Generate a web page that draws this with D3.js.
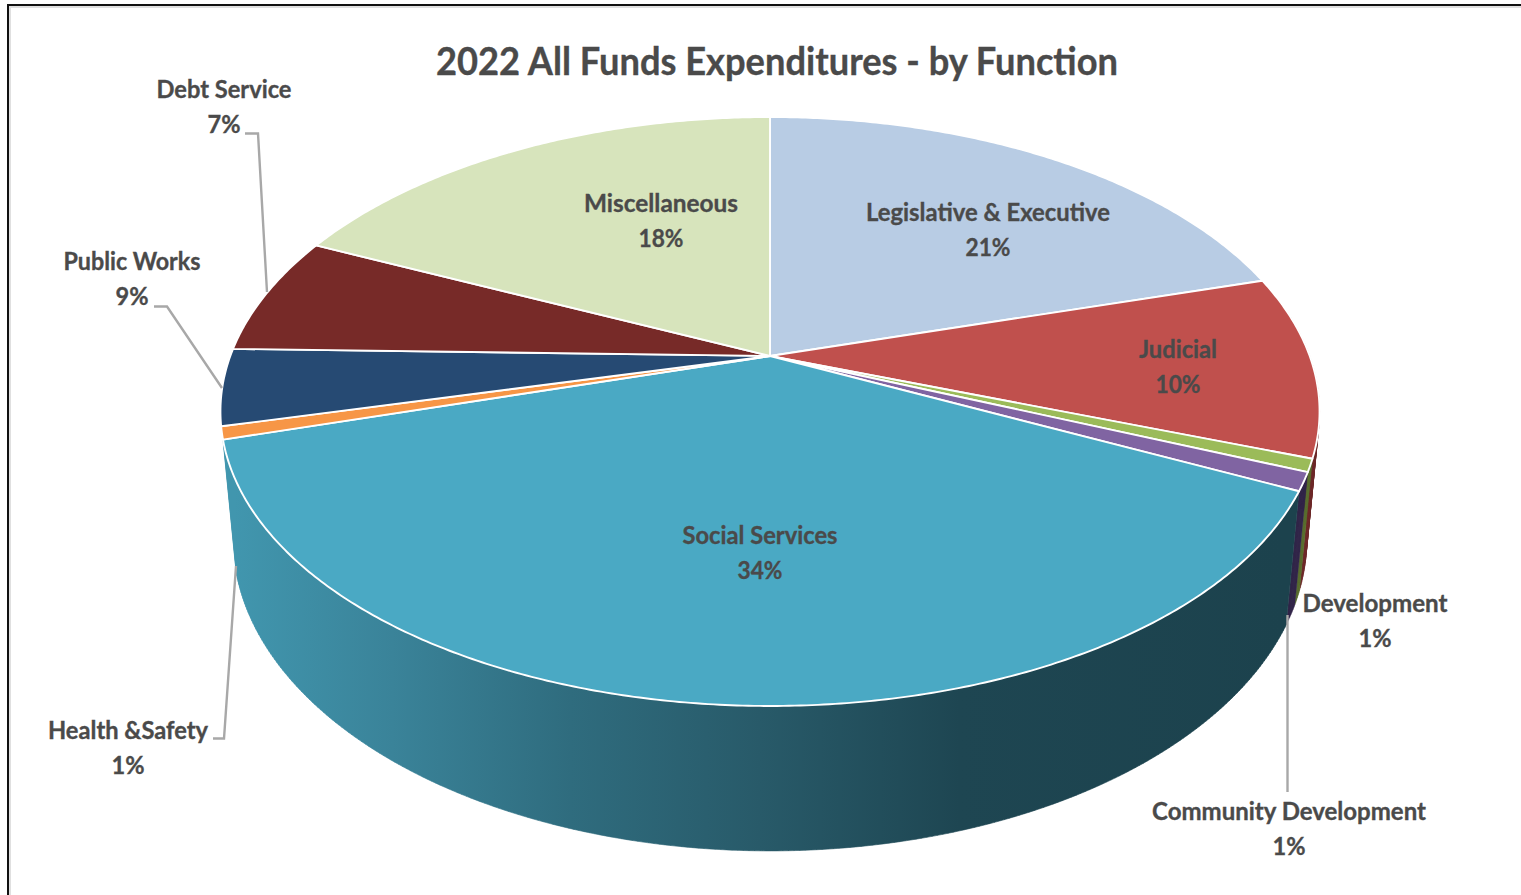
<!DOCTYPE html>
<html><head><meta charset="utf-8">
<script src="https://cdn.jsdelivr.net/npm/d3@7/dist/d3.min.js"></script>
<style>html,body{margin:0;padding:0;background:#fff;overflow:hidden}svg{display:block}</style>
</head><body><svg id="c" width="1521" height="895"></svg>
<script>
const chartTitle = "2022 All Funds Expenditures - by Function";
const categories = ["Legislative & Executive","Judicial","Development","Community Development","Social Services","Health &Safety","Public Works","Debt Service","Miscellaneous"];
const sliceShares = [20.5,10,0.7,1,38.3,0.7,4.2,6.5,18.1];
// percentages as printed in the data labels
const percentLabels = ["21%","10%","1%","1%","34%","1%","9%","7%","18%"];

const topColors  = ["#b8cce4","#c0504d","#9bbb59","#8064a2","#4aa9c4","#f79646","#264a73","#772a28","#d7e4bc"];
const wallColors = ["#8a99ab","#6e2c2a","#5a6e30","#32264a","url(#wall)","#a8622a","#17304c","#4a1a18","#8a9478"];

// label layout: [centre x, name baseline, pct baseline, name width, pct width]
const labelLayout = [
 [988,220.5,256,244,45],[1178,357.5,393,78,45],[1375,611.5,647,145,33],[1289,819.5,855,274,33],
 [760,543.5,579,155,45],[128,738.5,774,160,33],[132,269.5,305,137,33],[224,97.5,133,135,33],[661,211.5,247,154,45]
];
const leaders = [
 [[245,133.5],[258,133.5],[267,292]],
 [[154,306.5],[167,306.5],[222,388]],
 [[213,738.5],[224,738.5],[236,566]],
 [[1287.5,615],[1287.5,792]]
];

// perspective projection of the unit disc
const cx=770, cy=356, A=284, B=539.7, K=0.1885, H=129, E=0.023;
function proj(angle, z){
  const X=Math.sin(angle), Y=-Math.cos(angle);
  const w=1-K*Y+E*z;
  return [cx+B*X/w, cy+(A*Y+H*z)/w];
}
const svg=d3.select("#c");
const defs=svg.append("defs");
const g=defs.append("linearGradient").attr("id","wall").attr("gradientUnits","userSpaceOnUse")
  .attr("x1",235).attr("x2",1285).attr("y1",0).attr("y2",0);
[[0,"#4196ae"],[0.15,"#3a8399"],[0.32,"#2f6c7e"],[0.5,"#285a69"],[0.69,"#1e4652"],[1,"#1c424d"]]
  .forEach(s=>g.append("stop").attr("offset",s[0]).attr("stop-color",s[1]));

// frame: top and left edges only
svg.append("path").attr("d","M10,895V7H1521").attr("fill","none").attr("stroke","#e0e0e0").attr("stroke-width",2);
svg.append("path").attr("d","M8,895V5H1521").attr("fill","none").attr("stroke","#111").attr("stroke-width",2);

const arcs=d3.pie().sort(null).value(d=>d)(sliceShares);
const STEP=Math.PI/360;
function samples(a0,a1){
  const n=Math.max(2,Math.ceil((a1-a0)/STEP));
  return d3.range(n+1).map(i=>a0+(a1-a0)*i/n);
}
const line=d3.line();
function wallPath(d){
  const pts=samples(d.startAngle,d.endAngle);
  let p="";
  for(let i=0;i<pts.length-1;i++){
    const q=[proj(pts[i],0),proj(pts[i+1],0),proj(pts[i+1],1),proj(pts[i],1)];
    const area=d3.polygonArea(q);
    p+=line(area>=0?q:q.slice().reverse())+"Z";
  }
  return p;
}
function topPath(d){
  const pts=samples(d.startAngle,d.endAngle).map(a=>proj(a,0));
  return line([[cx,cy]].concat(pts))+"Z";
}
// front-facing walls
const wallOrder=[0,1,2,3,4];
svg.append("g").selectAll("path").data(wallOrder.map(i=>({d:arcs[i],i}))).join("path")
  .attr("d",o=>{
    const d=o.d, s=Math.max(d.startAngle,Math.PI*0.45), e=Math.min(d.endAngle,Math.PI*1.45);
    return e>s?wallPath({startAngle:s,endAngle:e}):"";
  })
  .attr("fill",o=>wallColors[o.i]).attr("stroke",o=>wallColors[o.i]).attr("stroke-width",o=>o.i==4?0.6:0.4);

// top surface
svg.append("g").selectAll("path").data(arcs).join("path")
  .attr("d",topPath).attr("fill",(d,i)=>topColors[i])
  .attr("stroke","#fff").attr("stroke-width",1.9).attr("stroke-linejoin","round");

// leader lines
svg.append("g").selectAll("path").data(leaders).join("path")
  .attr("d",d=>line(d)).attr("fill","none").attr("stroke","#a8a8a8").attr("stroke-width",2.4);

// text
const font="Lato, Carlito, 'Open Sans', sans-serif";
function txt(s,x,y,size,w){
  svg.append("text").attr("x",x).attr("y",y).attr("text-anchor","middle")
    .attr("font-family",font).attr("font-weight",700).attr("font-size",size)
    .attr("fill","#4a4a4a").attr("stroke","#4a4a4a").attr("stroke-width",0.35)
    .attr("textLength",w).attr("lengthAdjust","spacingAndGlyphs").text(s);
}
txt(chartTitle,777,75,39,682);
categories.forEach((c,i)=>{
  const L=labelLayout[i];
  txt(c,L[0],L[1],25,L[3]);
  txt(percentLabels[i],L[0],L[2],25,L[4]);
});
</script></body></html>
